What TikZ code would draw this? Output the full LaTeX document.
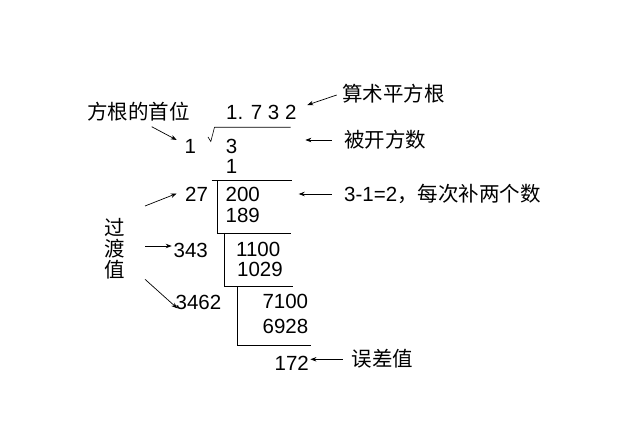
\documentclass[tikz,border=0pt]{standalone}
\usepackage{fontspec}
\setmainfont{Liberation Sans}
\newfontfamily\cjk{Noto Sans CJK SC}
\usetikzlibrary{arrows.meta,calc}
\tikzset{
  digits/.style={inner sep = 0pt, anchor = west, font = \fontsize{20.5}{24}\selectfont},
  note/.style={inner sep = 0pt, anchor = west, font = \cjk\fontsize{20.5}{24}\selectfont},
  pointer/.style={line width = 0.7pt, -{Stealth[length = 6pt, width = 4.5pt]}},
  bracket/.style={line width = 0.9pt}
}

\begin{document}
\begin{tikzpicture}[x=1pt, y=-1pt]
    \useasboundingbox (0,0) rectangle (640,422);
    % ---------------------
    \draw
    (226,112.7) node[digits] (qroot) {1. 7 3 2}
    (184.5,146) node[digits] (d1) {1}
    (225.7,146) node[digits] (r3) {3}
    (225.7,166.7) node[digits] (r1) {1}
    (185,194) node[digits] (d27) {27}
    (225.4,194) node[digits] (r200) {200}
    (225.5,215.5) node[digits] (r189) {189}
    (173.5,250.7) node[digits] (d343) {343}
    (236,249.3) node[digits] (r1100) {1100}
    (237,269) node[digits] (r1029) {1029}
    (175.5,302.3) node[digits] (d3462) {3462}
    (262.3,301.7) node[digits] (r7100) {7100}
    (262.5,326.7) node[digits] (r6928) {6928}
    (274.5,363.3) node[digits] (r172) {172};
    % ---------------------
    \draw
    (87,111.7) node[note] (lshou) {方根的首位}
    (342,93.3) node[note] (lsuan) {算术平方根}
    (344,140) node[note] (lbei) {被开方数}
    (344,194) node[digits] (lbu) {3-1=2{\cjk ，每次补两个数}}
    (351.5,358.3) node[note] (lwu) {误差值}
    (115,249) node[note, anchor = center, align = center,
      font = \cjk\fontsize{20.5}{21}\selectfont] (lguo) {过\\渡\\值};
    % ---------------------
    \draw[line width = 0.6pt] (208,137) -- (210.8,141.5) -- (214.5,127.3) -- (290.5,127.3);
    \draw[bracket] (211.7,180.3) -- (291.5,180.3);
    \draw[bracket] (217.7,180.3) -- (217.7,233) -- (291,233);
    \draw[bracket] (224.3,233) -- (224.3,286) -- (293,286);
    \draw[bracket] (237.7,286) -- (237.7,345) -- (311,345);
    % ---------------------
    \draw[pointer] ($(lshou.west)+(64.7,15)$) -- ($(d1.west)+(-7.8,-6)$);
    \draw[pointer] ($(lsuan.west)+(-5.3,1.7)$) -- ($(qroot.east)+(10.6,-7.7)$);
    \draw[pointer] ($(lbei.west)+(-12.3,0)$) -- ($(r3.east)+(67.9,-6)$);
    \draw[pointer] ($(lbu.west)+(-12.3,0)$) -- ($(r200.east)+(38.7,0)$);
    \draw[pointer] ($(lwu.west)+(-8.8,1)$) -- ($(r172.east)+(1.3,-4)$);
    \draw[pointer] ($(lguo.center)+(30,-43)$) -- ($(d27.west)+(-8.3,-0.5)$);
    \draw[pointer] ($(lguo.center)+(30,-3)$) -- ($(d343.west)+(-1.8,-4.7)$);
    \draw[pointer] ($(lguo.center)+(30,30.3)$) -- ($(d3462.west)+(1.8,6)$);
\end{tikzpicture}
\end{document}
